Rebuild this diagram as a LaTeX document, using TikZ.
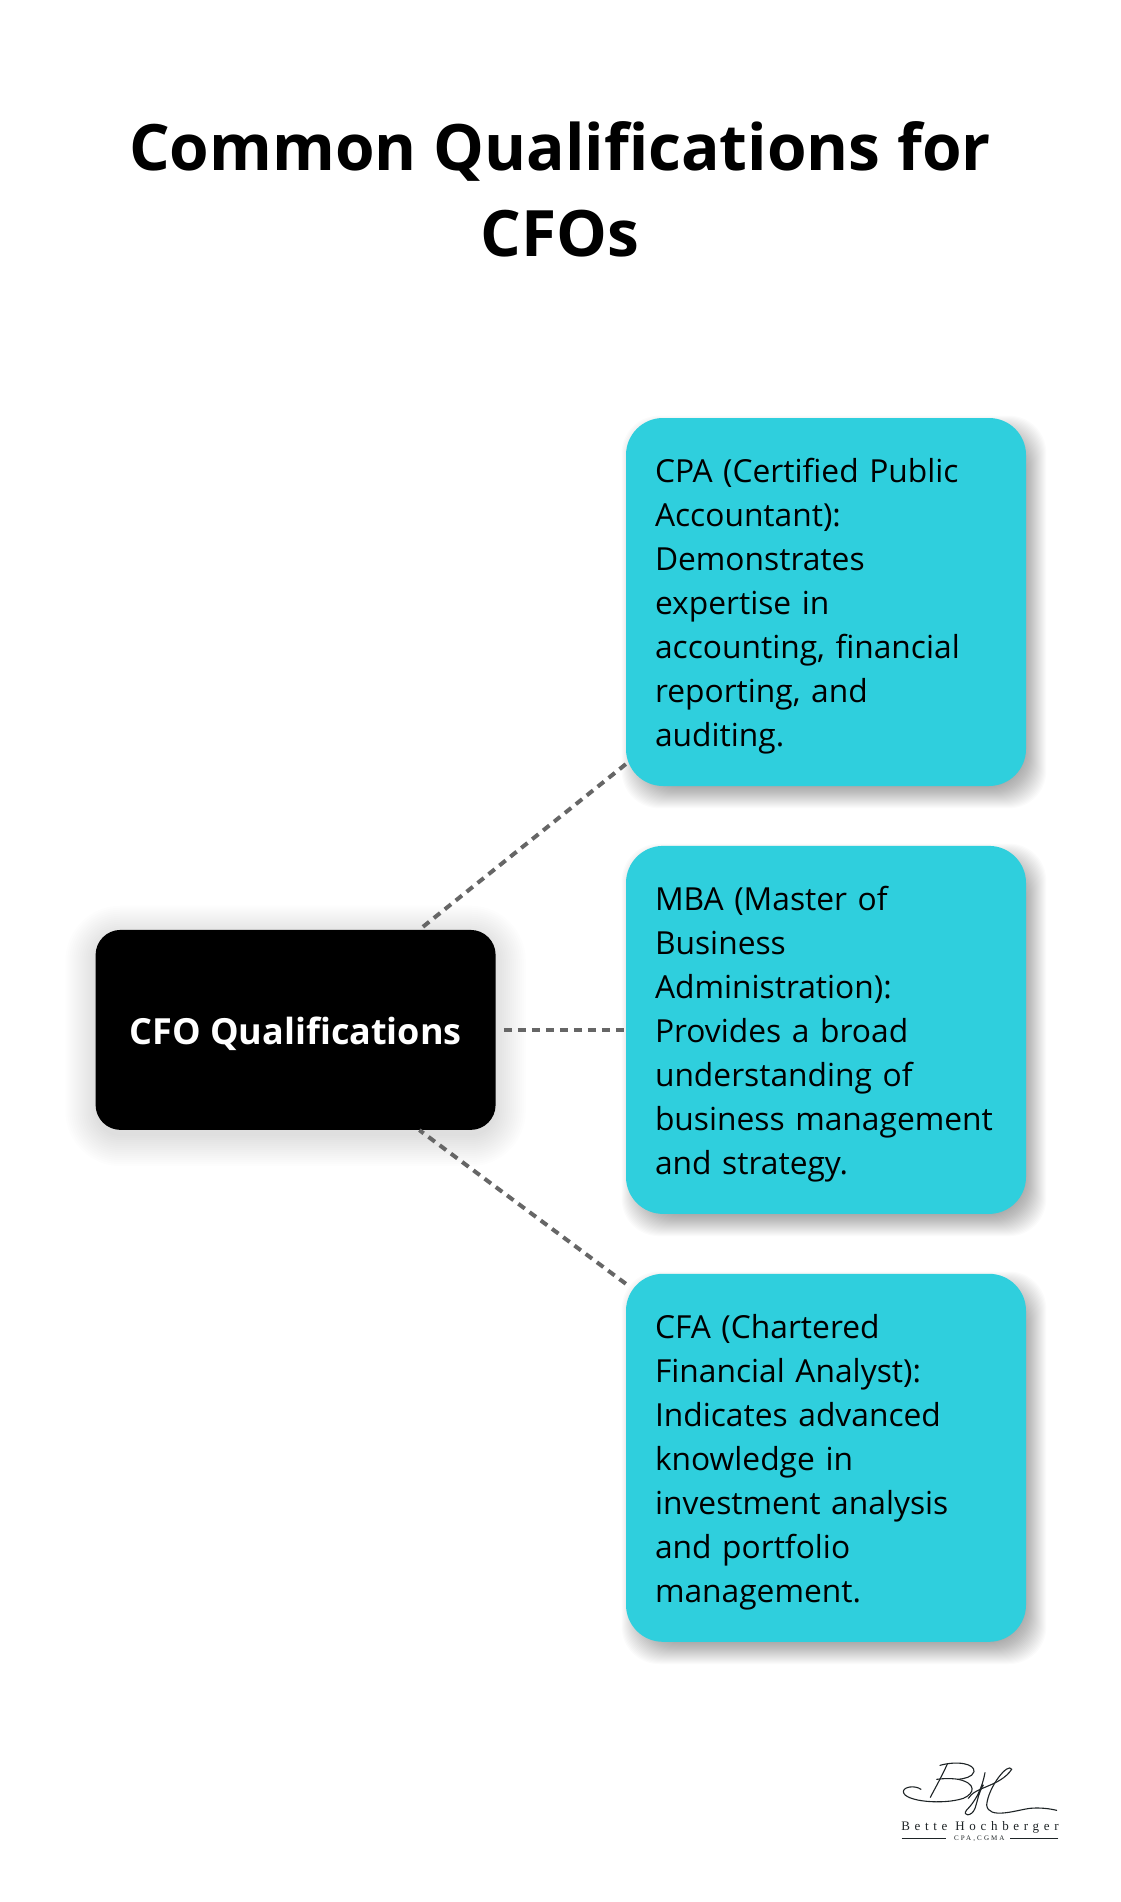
\documentclass[tikz,border=0pt]{standalone}
\usepackage{fontspec}
\setmainfont{Open Sans}
\newfontfamily\logofont[LetterSpace=36]{Liberation Serif}
\newfontfamily\logosmall[LetterSpace=30]{Liberation Serif}
\usetikzlibrary{positioning, calc, backgrounds}
\definecolor{boxcyan}{HTML}{2FCFDD}
\definecolor{linegray}{HTML}{666666}
\definecolor{logoink}{HTML}{1E2426}
\tikzset{
  x=1pt,y=-1pt,node distance=59.5pt,
  title/.style={align=center, font=\fontsize{64}{86}\selectfont\bfseries},
  rootbox/.style={fill=black, text=white, rounded corners=25pt, minimum width=400pt, minimum height=200pt,
    inner sep=0pt, font=\fontsize{36}{44}\selectfont\bfseries, execute at begin node=\rule{0pt}{35pt}},
  qualbox/.style={fill=boxcyan, text=black, rounded corners=37pt, minimum width=400pt, minimum height=368pt,
    inner sep=0pt, text width=342pt, align=left, font=\fontsize{31.75}{44}\selectfont, execute at begin node=\rule{0pt}{33pt}},
  link/.style={linegray, line width=4pt, dash pattern=on 8pt off 6pt},
  logoline/.style={logoink, line width=1.1pt, line cap=round}
}

\begin{document}
\begin{tikzpicture}
      \useasboundingbox (0,0) rectangle (1120,1902);
      
      \node[title] (heading) at (560,189) {Common Qualifications for\\CFOs};
      
      \node[qualbox] (cpa) at (826,602) {CPA (Certified Public\\Accountant):\\Demonstrates\\expertise in\\accounting, financial\\reporting, and\\auditing.};
      \node[qualbox, below = of cpa] (mba) {MBA (Master of\\Business\\Administration):\\Provides a broad\\understanding of\\business management\\and strategy.};
      \node[qualbox, below = of mba] (cfa) {CFA (Chartered\\Financial Analyst):\\Indicates advanced\\knowledge in\\investment analysis\\and portfolio\\management.};
      \node[rootbox, left = 130pt of mba] (root) {CFO Qualifications};
      
      \draw[link] (cpa.219.5) -- (root.39.7);
      \draw[link, shorten <=8pt] (root.east) -- (mba.west);
      \draw[link] (cfa.139.8) -- (root.-39.7);
      
      % shadows
      \begin{scope}[on background layer]
        \fill[white] (0,0) rectangle (1120,1902);
        \foreach \s in {0,2,...,30}
          \fill[black, opacity=0.008, rounded corners=25pt+\s pt]
            ($(root.north west)+(-\s,6-\s)$) rectangle ($(root.south east)+(\s,6+\s)$);
        \foreach \n in {cpa,mba,cfa}
          \foreach \s in {-14,-13,...,12}
            \fill[black, opacity=0.016, rounded corners=37pt]
              ($(\n.north west)+(8-\s,10-\s)$) rectangle ($(\n.south east)+(8+\s,10+\s)$);
      \end{scope}
      
      % logo
      \begin{scope}[shift={(860,1730)}, x=0.3333pt, y=-0.3333pt]
        \draw[logoline] (183,178) .. controls (165,165) and (130,170) .. (130,185)
          .. controls (132,215) and (250,225) .. (310,205)
          .. controls (345,190) and (350,160) .. (295,148) .. controls (270,144) and (245,146) .. (230,148);
        \draw[logoline] (240,106) .. controls (290,92) and (345,100) .. (342,125) .. controls (338,142) and (310,146) .. (295,148);
        \draw[logoline] (262,102) .. controls (245,140) and (225,175) .. (211,202);
        \draw[logoline] (375,128) .. controls (365,180) and (345,215) .. (320,240)
          .. controls (305,258) and (335,262) .. (345,235) .. controls (355,205) and (355,190) .. (370,165);
        \draw[logoline] (455,118) .. controls (445,95) and (385,170) .. (380,225)
          .. controls (385,270) and (470,240) .. (510,235) .. controls (540,232) and (570,236) .. (590,241);
        \draw[logoline] (325,205) .. controls (345,170) and (420,170) .. (455,118);
        \node[inner sep=0pt, text=logoink, font=\logofont\fontsize{13}{14}\selectfont] (logoname) at (360,293) {Bette Hochberger};
        \node[inner sep=0pt, text=logoink, font=\logosmall\fontsize{7}{8}\selectfont] (logotitle) at (358,325) {CPA,CGMA};
        \coordinate (ruleleft) at (125,325);
        \coordinate (ruleright) at (595,325);
        \draw[logoink, line width=0.5pt, shorten >=8pt] (ruleleft) -- (logotitle.west);
        \draw[logoink, line width=0.5pt, shorten >=5pt] (ruleright) -- (logotitle.east);
      \end{scope}
      
    \end{tikzpicture}
\end{document}
